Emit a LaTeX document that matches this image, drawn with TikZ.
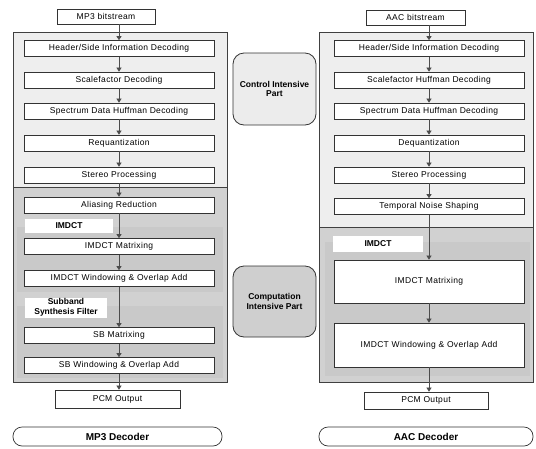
\documentclass[tikz,border=0pt]{standalone}
\usepackage{fontspec}
\setmainfont{Liberation Sans}
\newfontfamily\boxfont[LetterSpace=4]{Liberation Sans}
\usetikzlibrary{arrows.meta}
\tikzset{
  box/.style={draw=black!80, line width=0.7pt, fill=white, minimum height=16pt, inner sep=0pt, font=\boxfont\fontsize{8.5}{10}\selectfont},
  colbox/.style={box, minimum width=190pt},
  lightreg/.style={draw=black!75, line width=0.7pt, fill=gray!13},
  darkreg/.style={draw=black!75, line width=0.7pt, fill=gray!36},
  innerreg/.style={draw=gray!80, double=gray!42, double distance=1.2pt, line width=0.5pt, fill=gray!42},
  labelbox/.style={fill=white, inner sep=0pt, font=\bfseries\fontsize{8.5}{9.5}\selectfont},
  arr/.style={draw=black!70, line width=0.6pt, -{Triangle[width=5pt,length=4pt]}},
  partbox/.style={draw=black!80, line width=0.8pt, rounded corners=11pt, inner sep=0pt, align=center, font=\bfseries\fontsize{8.5}{9.5}\selectfont},
  decbox/.style={draw=black!80, line width=0.7pt, fill=white, rounded corners=9pt, inner sep=0pt, minimum height=19pt, font=\bfseries\fontsize{10}{12}\selectfont}
}
\begin{document}
\begin{tikzpicture}[x=1pt,y=-1pt]
\useasboundingbox[fill=white] (0,0) rectangle (536,448);
% ---------- left (MP3) regions ----------
\draw[lightreg] (13,32) rectangle (227,187);
\draw[darkreg] (13,187) rectangle (227,382);
\draw[innerreg] (18,228) rectangle (222,291);
\draw[innerreg] (18,307) rectangle (222,377);
\node[labelbox, minimum width=88pt, minimum height=14pt] (limlab) at (69,226) {IMDCT};
\node[labelbox, minimum width=82pt, minimum height=20pt, align=center] (sblab) at (66,307.5) {Subband\\Synthesis Filter};
% ---------- right (AAC) regions ----------
\draw[lightreg] (319,32) rectangle (533,227);
\draw[darkreg] (319,227) rectangle (533,382);
\draw[innerreg] (326,243) rectangle (529,375);
\node[labelbox, minimum width=90pt, minimum height=16pt] (rimlab) at (378,243.5) {IMDCT};
% ---------- middle ----------
\node[partbox, fill=gray!15, minimum width=83pt, minimum height=72pt] (ctrl) at (274.5,89) {Control Intensive\\Part};
\node[partbox, fill=gray!38, minimum width=83pt, minimum height=71pt] (comp) at (274.5,301.5) {Computation\\Intensive Part};
% ---------- left column boxes ----------
\node[box, minimum width=98pt, minimum height=15pt] (lbs) at (106,16.5) {MP3 bitstream};
\node[colbox] (lh) at (119,48.5) {Header/Side Information Decoding};
\node[colbox] (lsf) at (119,80) {Scalefactor Decoding};
\node[colbox] (lsp) at (119,111) {Spectrum Data Huffman Decoding};
\node[colbox] (lrq) at (119,143) {Requantization};
\node[colbox] (lst) at (119,175) {Stereo Processing};
\node[colbox] (lal) at (119,205) {Aliasing Reduction};
\node[colbox] (lim1) at (119,246.5) {IMDCT Matrixing};
\node[colbox] (lim2) at (119,278.5) {IMDCT Windowing \& Overlap Add};
\node[colbox] (lsb1) at (119,335.5) {SB Matrixing};
\node[colbox] (lsb2) at (119,365.5) {SB Windowing \& Overlap Add};
\node[box, minimum width=125pt, minimum height=18pt] (lpcm) at (117.5,399) {PCM Output};
\node[decbox, minimum width=209pt] (mp3) at (117.5,436.5) {MP3 Decoder};
% ---------- right column boxes ----------
\node[box, minimum width=99pt, minimum height=15pt] (rbs) at (415.5,17.5) {AAC bitstream};
\node[colbox] (rh) at (429,48.5) {Header/Side Information Decoding};
\node[colbox] (rsf) at (429,80) {Scalefactor Huffman Decoding};
\node[colbox] (rsp) at (429,111) {Spectrum Data Huffman Decoding};
\node[colbox] (rdq) at (429,143) {Dequantization};
\node[colbox] (rst) at (429,175) {Stereo Processing};
\node[colbox] (rtn) at (429,206.5) {Temporal Noise Shaping};
\node[colbox, minimum height=43pt] (rim1) at (429,281.5) {IMDCT Matrixing};
\node[colbox, minimum height=44pt] (rim2) at (429,345) {IMDCT Windowing \& Overlap Add};
\node[box, minimum width=124pt, minimum height=17pt] (rpcm) at (426,400.5) {PCM Output};
\node[decbox, minimum width=214pt] (aac) at (426,436.5) {AAC Decoder};
% ---------- arrows ----------
\draw[arr] (lbs.south -| lh.north) -- (lh.north);
\draw[arr] (lh) -- (lsf);
\draw[arr] (lsf) -- (lsp);
\draw[arr] (lsp) -- (lrq);
\draw[arr] (lrq) -- (lst);
\draw[arr] (lst) -- (lal);
\draw[arr] (lal) -- (lim1);
\draw[arr] (lim1) -- (lim2);
\draw[arr] (lim2) -- (lsb1);
\draw[arr] (lsb1) -- (lsb2);
\draw[arr] (lsb2.south) -- (lpcm.north -| lsb2.south);
\draw[arr] (rbs.south -| rh.north) -- (rh.north);
\draw[arr] (rh) -- (rsf);
\draw[arr] (rsf) -- (rsp);
\draw[arr] (rsp) -- (rdq);
\draw[arr] (rdq) -- (rst);
\draw[arr] (rst) -- (rtn);
\draw[arr] (rtn) -- (rim1);
\draw[arr] (rim1) -- (rim2);
\draw[arr] (rim2.south) -- (rpcm.north -| rim2.south);
\end{tikzpicture}
\end{document}
